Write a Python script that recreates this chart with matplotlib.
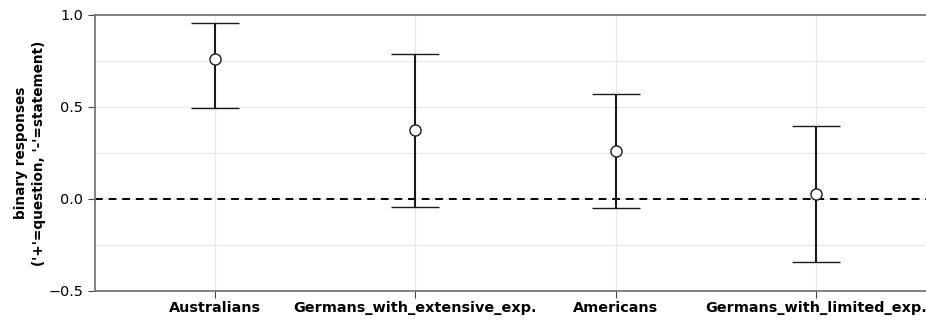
import matplotlib
matplotlib.use("Agg")
import matplotlib.pyplot as plt
import numpy as np

groups = ["Australians", "Germans_with_extensive_exp.", "Americans", "Germans_with_limited_exp."]
means = [0.76, 0.375, 0.262, 0.027]
upper = [0.955, 0.787, 0.572, 0.395]
lower = [0.493, -0.042, -0.048, -0.343]

x = np.arange(len(groups))
yerr = [np.array(means) - np.array(lower), np.array(upper) - np.array(means)]

fig = plt.figure(figsize=(9.26, 3.22), dpi=100)
ax = fig.add_axes([95 / 926, 31 / 322, 835 / 926, 276 / 322])

ax.errorbar(x, means, yerr=yerr, fmt='o', color='black', ecolor='#1a1a1a',
            elinewidth=1.5, capsize=17, capthick=1.6, markersize=8,
            markerfacecolor='white', markeredgecolor='#1a1a1a', markeredgewidth=1, zorder=3)
ax.axhline(0, color='black', linestyle='--', linewidth=1.4, dashes=(4, 3), zorder=2)

ax.set_xlim(-0.6, 3.57)
ax.set_ylim(-0.5, 1.0)
ax.set_yticks([-0.5, 0.0, 0.5, 1.0])
ax.set_yticks([-0.25, 0.25, 0.75], minor=True)
ax.set_xticks(x)
ax.set_xticklabels(groups, fontweight='bold', fontsize=10.4)
ax.tick_params(axis='y', which='minor', length=0)
ax.tick_params(axis='both', which='major', labelsize=10.4, direction='out', length=5, color='#444444')
ax.tick_params(axis='x', pad=2)
ax.grid(True, which='both', color='#e8e8e8', linewidth=0.8, zorder=0)
ax.set_axisbelow(True)

for s in ['left', 'bottom', 'top']:
    ax.spines[s].set_color('#777777')
    ax.spines[s].set_linewidth(1.3)
ax.spines['right'].set_visible(False)

ax.set_ylabel("binary responses\n('+'=question, '-'=statement)", fontweight='bold', fontsize=9.8,
              labelpad=1.5, linespacing=1.4)

fig.savefig("out.png", dpi=100)
